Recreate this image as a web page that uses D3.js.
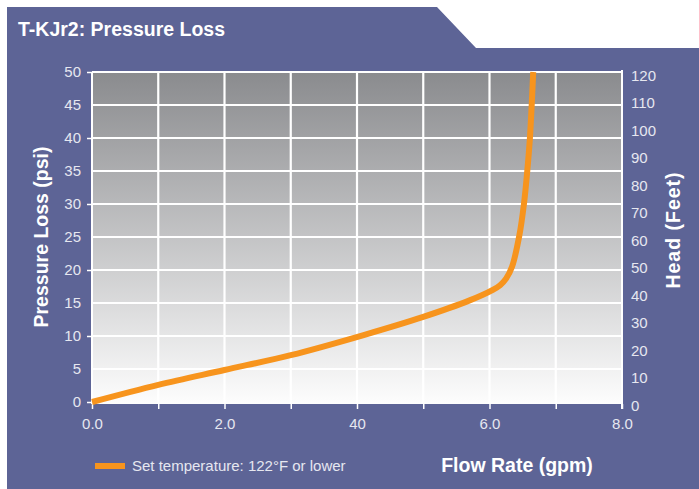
<!DOCTYPE html>
<html>
<head>
<meta charset="utf-8">
<script src="https://cdn.jsdelivr.net/npm/d3@7"></script>
<style>
  body { margin: 0; background: #fff; }
  svg { display: block; font-family: "Liberation Sans", Arial, sans-serif; }
</style>
</head>
<body>
<svg id="chart" width="699" height="489"></svg>
<script>
// flow rate (gpm) vs pressure loss (psi)
const flowRate = [0, 1.0, 2.0, 3.0, 4.1, 5.0, 5.7, 6.05, 6.16, 6.25, 6.34, 6.45, 6.52, 6.57, 6.61, 6.66];
const pressureLoss = [0, 2.6, 4.85, 7.1, 10.15, 12.9, 15.4, 17.0, 17.7, 18.7, 20.5, 25.2, 30, 35, 40, 50];

const xTickLabels = ['0.0', '2.0', '40', '6.0', '8.0'];
const psiTicks = [0, 5, 10, 15, 20, 25, 30, 35, 40, 45, 50];
const headTicks = [0, 10, 20, 30, 40, 50, 60, 70, 80, 90, 100, 110, 120];
const legendLabel = 'Set temperature: 122°F or lower';

const purple = '#5d6496';
const orange = '#f7941d';
const tickColor = '#e6e7f0';

const svg = d3.select('#chart');

// background panel with tab
svg.append('path')
  .attr('d', 'M7,7 L437,7 L476,48 L699,48 L699,489 L7,489 Z')
  .attr('fill', purple);

svg.append('text')
  .attr('x', 18).attr('y', 36)
  .attr('fill', '#fff')
  .attr('font-size', 19.5).attr('font-weight', 'bold')
  .text('T-KJr2: Pressure Loss');

const margin = { top: 72, left: 92, right: 77, bottom: 87 };
const width = 699 - margin.left - margin.right;
const height = 489 - margin.top - margin.bottom;

const defs = svg.append('defs');
const grad = defs.append('linearGradient')
  .attr('id', 'bg').attr('x1', 0).attr('y1', 0).attr('x2', 0).attr('y2', 1);
grad.append('stop').attr('offset', 0).attr('stop-color', '#8a8b8e');
grad.append('stop').attr('offset', 1).attr('stop-color', '#fdfdfd');

const g = svg.append('g').attr('transform', `translate(${margin.left},${margin.top})`);

const x = d3.scaleLinear().domain([0, 8]).range([0, width]);
const y = d3.scaleLinear().domain([0, 50]).range([height, 0]);
const yHead = d3.scaleLinear().domain([0, 120]).range([height, 0]);

g.append('rect')
  .attr('width', width).attr('height', height + 2)
  .attr('fill', 'url(#bg)');

// grid
g.append('g')
  .selectAll('line')
  .data(psiTicks.slice(1))
  .enter().append('line')
  .attr('x1', 0).attr('x2', width)
  .attr('y1', d => y(d)).attr('y2', d => y(d))
  .attr('stroke', '#fff').attr('stroke-width', 2.2);

g.append('g')
  .selectAll('line')
  .data(d3.range(1, 8))
  .enter().append('line')
  .attr('x1', d => x(d)).attr('x2', d => x(d))
  .attr('y1', 0).attr('y2', height + 2)
  .attr('stroke', '#fff').attr('stroke-width', 2.2);

// x axis
const xAxis = g.append('g')
  .attr('transform', `translate(0,${height + 2})`)
  .call(d3.axisBottom(x).tickValues(d3.range(0, 9)).tickSize(5).tickPadding(9)
    .tickFormat(d => d % 2 === 0 ? xTickLabels[d / 2] : ''));
xAxis.select('.domain').remove();
xAxis.selectAll('line').attr('stroke', '#fff').attr('stroke-width', 1.5);
xAxis.selectAll('text').attr('fill', tickColor).attr('font-size', 15)
  .attr('font-family', '"Liberation Sans", Arial, sans-serif');

// left axis
const yAxis = g.append('g')
  .call(d3.axisLeft(y).tickValues(psiTicks).tickSize(5).tickPadding(6));
yAxis.select('.domain').remove();
yAxis.selectAll('.tick line')
  .attr('stroke', '#fff').attr('stroke-width', 1.5)
  .attr('opacity', d => d % 10 === 0 ? 1 : 0);
yAxis.selectAll('text').attr('fill', tickColor).attr('font-size', 15)
  .attr('font-family', '"Liberation Sans", Arial, sans-serif');

// right axis
const rAxis = g.append('g')
  .attr('transform', `translate(${width},0)`)
  .call(d3.axisRight(yHead).tickValues(headTicks).tickSize(0).tickPadding(9));
rAxis.select('.domain').remove();
rAxis.selectAll('text').attr('fill', tickColor).attr('font-size', 15)
  .attr('dy', '0.55em')
  .attr('font-family', '"Liberation Sans", Arial, sans-serif');

// frame lines
g.append('line').attr('x1', 0).attr('x2', 0).attr('y1', 0).attr('y2', height + 2)
  .attr('stroke', '#fff').attr('stroke-width', 2);
g.append('line').attr('x1', width).attr('x2', width).attr('y1', -2).attr('y2', height + 7)
  .attr('stroke', '#fff').attr('stroke-width', 2);
g.append('line').attr('x1', 0).attr('x2', width).attr('y1', 0).attr('y2', 0)
  .attr('stroke', '#fff').attr('stroke-width', 1.5);

// curve
const pts = flowRate.map((f, i) => [f, pressureLoss[i]]);
const line = d3.line()
  .x(d => x(d[0]))
  .y(d => y(d[1]))
  .curve(d3.curveCatmullRom.alpha(0.5));

g.append('path')
  .datum(pts)
  .attr('d', line)
  .attr('fill', 'none')
  .attr('stroke', orange)
  .attr('stroke-width', 6);

// axis titles
svg.append('text')
  .attr('transform', `translate(48,${margin.top + height / 2}) rotate(-90)`)
  .attr('text-anchor', 'middle')
  .attr('fill', '#fff').attr('font-size', 19.5).attr('font-weight', 'bold')
  .text('Pressure Loss (psi)');

svg.append('text')
  .attr('transform', `translate(680,230) rotate(-90)`)
  .attr('text-anchor', 'middle')
  .attr('fill', '#fff').attr('font-size', 19.5).attr('font-weight', 'bold')
  .attr('letter-spacing', 1)
  .text('Head (Feet)');

svg.append('text')
  .attr('x', 517).attr('y', 472)
  .attr('text-anchor', 'middle')
  .attr('fill', '#fff').attr('font-size', 19.5).attr('font-weight', 'bold')
  .text('Flow Rate (gpm)');

// legend
svg.append('line')
  .attr('x1', 95).attr('x2', 125).attr('y1', 466).attr('y2', 466)
  .attr('stroke', orange).attr('stroke-width', 6);
svg.append('text')
  .attr('x', 132).attr('y', 471)
  .attr('fill', tickColor).attr('font-size', 15)
  .text(legendLabel);
</script>
</body>
</html>
